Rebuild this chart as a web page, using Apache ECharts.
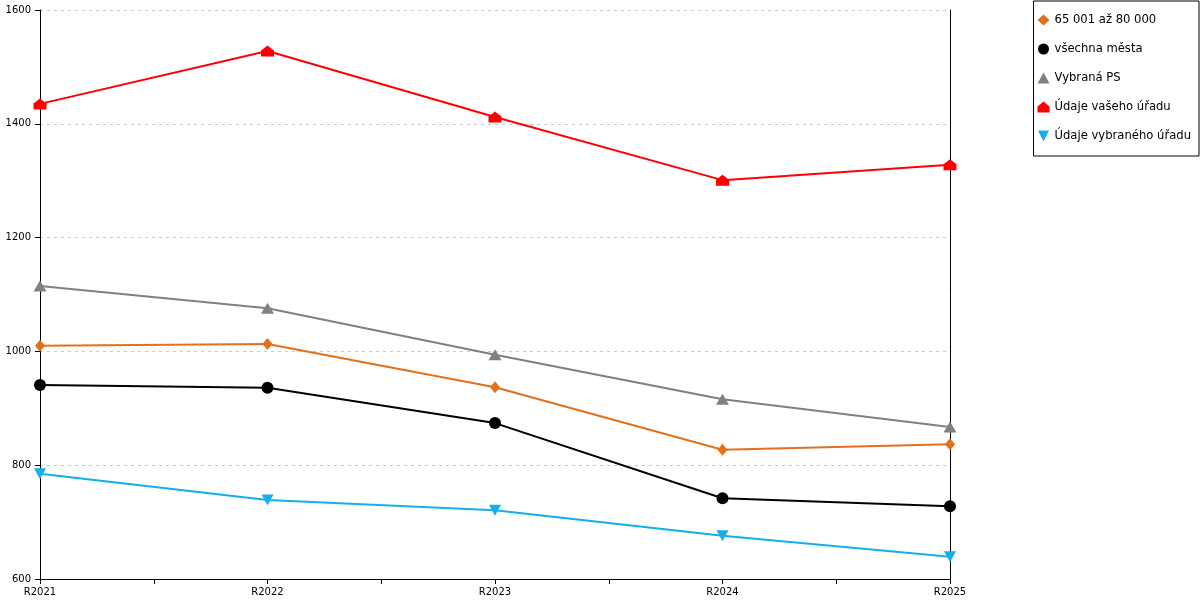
<!DOCTYPE html>
<html lang="cs">
<head>
	<meta charset="UTF-8">
	<title>Graf</title>
	<script src="https://cdn.jsdelivr.net/npm/echarts@6/dist/echarts.min.js"></script>
	<style>
		html,body{margin:0;padding:0;background:#fff;}
		#main{width:1200px;height:600px;}
	</style>
</head>
<body>
	<div id="main"></div>
	<script type="text/javascript">
var categories = ['R2021', 'R2022', 'R2023', 'R2024', 'R2025'];
var yTicks = [600, 800, 1000, 1200, 1400, 1600];

var names = ['65 001 až 80 000', 'všechna města', 'Vybraná PS', 'Údaje vašeho úřadu', 'Údaje vybraného úřadu'];
var kategorie = [1010, 1013, 937, 827, 837];
var vsechnaMesta = [941, 936, 874, 742, 728];
var vybranaPS = [1115, 1076, 994, 916, 867];
var vasUrad = [1435, 1528, 1412, 1301, 1328];
var vybranyUrad = [785, 739, 721, 676, 639];

var colors = ['#e3701a', '#000000', '#808080', '#ff0000', '#16aee8'];
// domecek pro "Údaje vašeho úřadu"
var house = 'path://M0,5 L6,0 L12,5 L12,11 L0,11 Z';
var symbols = ['diamond', 'circle', 'triangle', house, 'path://M0,0 L10,0 L5,10 Z'];
var sizes = [[10, 12], 12, [13, 11], [13, 11], [12, 11]];

var myChart = echarts.init(document.getElementById('main'));

function toPairs(arr) {
	var out = [];
	for (var i = 0; i < arr.length; i++) {
		out.push([i, arr[i]]);
	}
	return out;
}

var allData = [kategorie, vsechnaMesta, vybranaPS, vasUrad, vybranyUrad];
var series = [];
for (var s = 0; s < allData.length; s++) {
	series.push({
		name: names[s],
		type: 'line',
		data: toPairs(allData[s]),
		symbol: symbols[s],
		symbolSize: sizes[s],
		showAllSymbol: true,
		lineStyle: { width: 2, color: colors[s] },
		itemStyle: { color: colors[s] },
		emphasis: { disabled: true },
		z: 10 - s
	});
}

var option = {
	animation: false,
	color: colors,
	textStyle: { fontFamily: 'DejaVu Sans' },
	grid: { left: 40, right: 250, top: 10, bottom: 21, containLabel: false },
	legend: {
		orient: 'vertical',
		right: 1,
		top: 1,
		padding: [12, 8, 13, 4],
		itemGap: 15,
		itemWidth: 12,
		itemHeight: 11,
		borderColor: '#000',
		borderWidth: 1,
		borderRadius: 0,
		backgroundColor: '#fff',
		textStyle: { fontSize: 11.6, color: '#000', fontFamily: 'DejaVu Sans', lineHeight: 14 },
		data: names.map(function (n, i) {
			return { name: n, icon: symbols[i] };
		})
	},
	xAxis: {
		type: 'value',
		min: 0,
		max: categories.length - 1,
		interval: 0.5,
		axisLine: { show: true, lineStyle: { color: '#000', width: 1 } },
		axisTick: { show: true, length: 5, inside: false, lineStyle: { color: '#000' } },
		axisLabel: {
			fontSize: 10,
			color: '#000',
			margin: 8,
			showMaxLabel: true,
			showMinLabel: true,
			formatter: function (v) {
				return v % 1 === 0 ? categories[v] : '';
			}
		},
		splitLine: { show: false }
	},
	yAxis: [{
		type: 'value',
		min: yTicks[0],
		max: yTicks[yTicks.length - 1],
		interval: 200,
		axisLine: { show: true, lineStyle: { color: '#000', width: 1 } },
		axisTick: { show: true, length: 5, lineStyle: { color: '#000' } },
		axisLabel: {
			fontSize: 10,
			color: '#000',
			margin: 9,
			formatter: function (v) { return String(v); }
		},
		splitLine: { show: true, lineStyle: { type: [3, 4], color: '#c8c8c8', width: 1 } }
	}, {
		type: 'value',
		position: 'right',
		min: yTicks[0],
		max: yTicks[yTicks.length - 1],
		interval: 200,
		axisLine: { show: true, lineStyle: { color: '#000', width: 1 } },
		axisTick: { show: false },
		axisLabel: { show: false },
		splitLine: { show: false }
	}],
	series: series
};

if (option && typeof option === "object") {
	myChart.setOption(option);
}
	</script>
</body>
</html>
